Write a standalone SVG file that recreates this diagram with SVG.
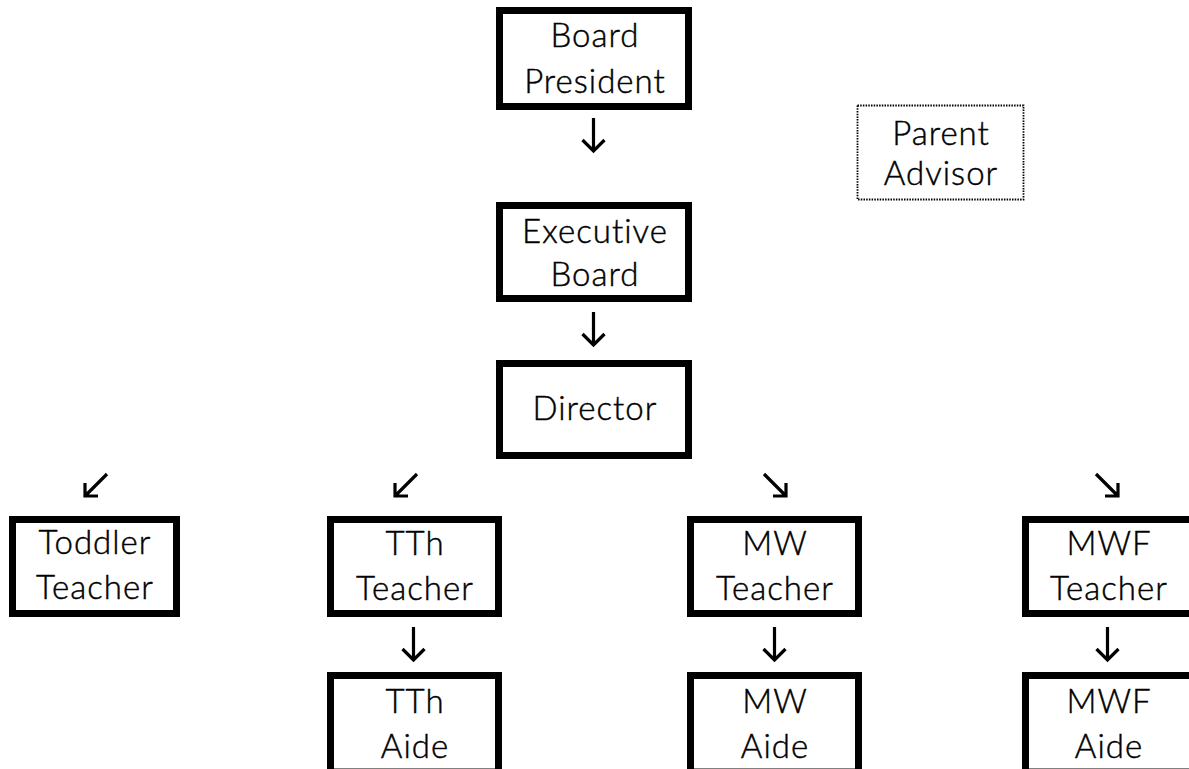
<svg xmlns="http://www.w3.org/2000/svg" width="1189" height="769" viewBox="0 0 1189 769">
<style>
.box{fill:#fff;stroke:#000;stroke-width:7}
.dot{fill:#fff;stroke:#000;stroke-width:1.8;stroke-dasharray:1.5 1.2}
.t{font-family:Lato,"Open Sans","Noto Sans",sans-serif;font-weight:300;font-size:33px;letter-spacing:1px;font-variant-ligatures:none;fill:#000;stroke:#000;stroke-width:0.45;text-anchor:middle}
.arr{fill:none;stroke:#000;stroke-width:3.2;stroke-linecap:butt;stroke-linejoin:miter}
</style>
<rect width="1189" height="769" fill="#fff"/>
<g id="connectors">
<path class="arr" d="M593.5 118V151M582.5 140L593.5 151L604.5 140"/>
<path class="arr" d="M593.5 312V345M582.5 334L593.5 345L604.5 334"/>
<path class="arr" d="M107 474L85 496M85 483V496H98"/>
<path class="arr" d="M417 474L395 496M395 483V496H408"/>
<path class="arr" d="M764 474L786 496M786 483V496H773"/>
<path class="arr" d="M1096 474L1118 496M1118 483V496H1105"/>
<path class="arr" d="M413.5 627V660M402.5 649L413.5 660L424.5 649"/>
<path class="arr" d="M774.5 627V660M763.5 649L774.5 660L785.5 649"/>
<path class="arr" d="M1107.5 627V660M1096.5 649L1107.5 660L1118.5 649"/>
</g>
<g id="board-president"><rect class="box" x="499.5" y="10.5" width="189" height="96"/><text class="t" x="595" y="47">Board</text><text class="t" x="595" y="93">President</text></g>
<g id="parent-advisor"><rect class="dot" x="857.5" y="105.5" width="166" height="94"/><text class="t" x="941" y="145">Parent</text><text class="t" x="941" y="185">Advisor</text></g>
<g id="executive-board"><rect class="box" x="499.5" y="205.5" width="189" height="93"/><text class="t" x="595" y="243">Executive</text><text class="t" x="595" y="286">Board</text></g>
<g id="director"><rect class="box" x="499.5" y="363.5" width="189" height="92"/><text class="t" x="595" y="420">Director</text></g>
<g id="toddler-teacher"><rect class="box" x="12.5" y="519.5" width="164" height="94"/><text class="t" x="95" y="554">Toddler</text><text class="t" x="95" y="599">Teacher</text></g>
<g id="tth-teacher"><rect class="box" x="330.5" y="519.5" width="168" height="94"/><text class="t" x="415" y="555">TTh</text><text class="t" x="415" y="600">Teacher</text></g>
<g id="mw-teacher"><rect class="box" x="690.5" y="519.5" width="168" height="94"/><text class="t" x="775" y="555">MW</text><text class="t" x="775" y="600">Teacher</text></g>
<g id="mwf-teacher"><rect class="box" x="1025.5" y="519.5" width="168" height="94"/><text class="t" x="1109" y="555">MWF</text><text class="t" x="1109" y="600">Teacher</text></g>
<g id="tth-aide"><rect class="box" x="330.5" y="675.5" width="168" height="96.5"/><text class="t" x="415" y="713">TTh</text><text class="t" x="415" y="758">Aide</text></g>
<g id="mw-aide"><rect class="box" x="690.5" y="675.5" width="168" height="96.5"/><text class="t" x="775" y="713">MW</text><text class="t" x="775" y="758">Aide</text></g>
<g id="mwf-aide"><rect class="box" x="1025.5" y="675.5" width="168" height="96.5"/><text class="t" x="1109" y="713">MWF</text><text class="t" x="1109" y="758">Aide</text></g>
</svg>
